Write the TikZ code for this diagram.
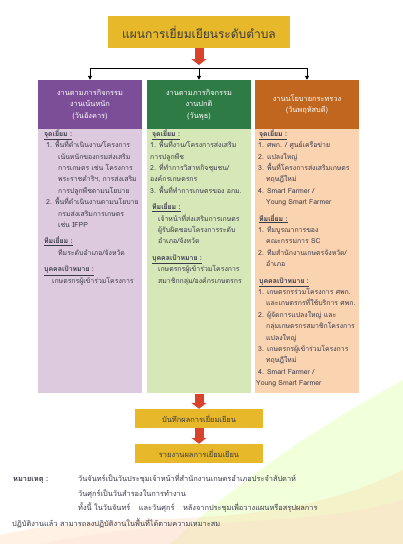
\documentclass[tikz,border=0pt]{standalone}
\usepackage{fontspec}
\setmainfont[Script=Thai]{Loma}
\usetikzlibrary{arrows.meta, positioning}

\definecolor{titlegold}{HTML}{E6B82A}
\definecolor{arrowred}{HTML}{D9432B}
\definecolor{purplehead}{HTML}{7D4E98}
\definecolor{purplebody}{HTML}{DDCADE}
\definecolor{greenhead}{HTML}{2F7B45}
\definecolor{greenbody}{HTML}{D6E7B8}
\definecolor{orangehead}{HTML}{C0661E}
\definecolor{orangebody}{HTML}{FAD3B1}
\definecolor{bodyink}{HTML}{3A3A48}
\definecolor{titleink}{HTML}{3B3B3B}

\newcommand{\secthead}[1]{\underline{\textbf{#1}}}

\begin{document}
\begin{tikzpicture}[x=1pt, y=-1pt,
  headbox/.style={minimum width=104pt, minimum height=49pt, align=center, text=white, inner sep=0pt, font=\fontsize{7.4}{11.5}\selectfont},
  bodybox/.style={minimum width=104pt, minimum height=264pt, inner sep=0pt},
  bodytext/.style={anchor=north west, align=left, inner sep=0pt, text=bodyink, font=\fontsize{6.9}{11.4}\selectfont},
  goldbox/.style={fill=titlegold, minimum width=128pt, minimum height=19pt, inner sep=0pt, text=titleink, font=\fontsize{7.5}{9}\selectfont},
  redarrow/.style={draw=arrowred, line width=9pt, -{Triangle[length=6pt, width=15pt]}},
  conn/.style={draw=black, line width=0.9pt, -{Triangle[length=4pt, width=4pt]}},
  notefont/.style={inner sep=0pt, text=bodyink, font=\fontsize{7.4}{14.5}\selectfont}
]
\useasboundingbox (0,0) rectangle (403,544);
\fill[white] (0,0) rectangle (403,544);

% soft background swirl
\fill[green!35!yellow, opacity=0.14] (170,544) .. controls (250,470) and (330,420) .. (403,380) -- (403,544) -- cycle;
\fill[orange!50, opacity=0.2] (0,535) .. controls (130,505) and (260,540) .. (403,470) -- (403,544) -- (0,544) -- cycle;
\fill[pink!70, opacity=0.22] (40,544) .. controls (170,515) and (300,530) .. (403,500) -- (403,544) -- cycle;

% title
\node[fill=titlegold, minimum width=182pt, minimum height=32pt, inner sep=0pt, text=titleink, font=\fontsize{12}{14}\selectfont] (title) at (199,32) {แผนการเยี่ยมเยียนระดับตำบล};
\coordinate (redtip) at (199,65);
\coordinate (bar) at (199,68);
\draw[redarrow] (title.south) -- (redtip);

% three columns
\node[headbox, fill=purplehead] (lefthead) at (90,104.5) {งานตามภารกิจกรรม\\งานเน้นหนัก\\(วันอังคาร)};
\node[headbox, fill=greenhead] (midhead) at (199,104.5) {งานตามภารกิจกรรม\\งานปกติ\\(วันพุธ)};
\node[headbox, fill=orangehead] (righthead) at (307,104.5) {งานนโยบายกระทรวง\\(วันพฤหัสบดี)};

\node[bodybox, fill=purplebody, below=0pt of lefthead] (leftbody) {};
\node[bodybox, fill=greenbody, below=0pt of midhead] (midbody) {};
\node[bodybox, fill=orangebody, below=0pt of righthead] (rightbody) {};

\draw[conn] (bar) -| (lefthead.north);
\draw[conn] (bar) -| (righthead.north);
\draw[conn] (bar) -- (midhead.north);

\node[bodytext] (lefttext) at (46,129) {%
\hspace*{-2pt}\secthead{จุดเยี่ยม :}\\
1. พื้นที่ดำเนินงาน/โครงการ\\
\hspace*{12pt}เน้นหนักของกรมส่งเสริม\\
\hspace*{12pt}การเกษตร เช่น โครงการ\\
\hspace*{12pt}พระราชดำริฯ, การส่งเสริม\\
\hspace*{12pt}การปลูกพืชตามนโยบาย\\
2. พื้นที่ดำเนินงานตามนโยบาย\\
\hspace*{12pt}กรมส่งเสริมการเกษตร\\
\hspace*{12pt}เช่น IFPP\\[5pt]
\hspace*{-2pt}\secthead{ทีมเยี่ยม :}\\
\hspace*{12pt}ทีมระดับอำเภอ/จังหวัด\\[5pt]
\hspace*{-2pt}\secthead{บุคคลเป้าหมาย :}\\
\hspace*{6pt}เกษตรกรผู้เข้าร่วมโครงการ};

\node[bodytext] (midtext) at (150,129) {%
\hspace*{2pt}\secthead{จุดเยี่ยม :}\\
1. พื้นที่งาน/โครงการส่งเสริม\\
การปลูกพืช\\
2. ที่ทำการวิสาหกิจชุมชน/\\
องค์กรเกษตรกร\\
3. พื้นที่ทำการเกษตรของ อกม.\\[5pt]
\hspace*{2pt}\secthead{ทีมเยี่ยม :}\\
\hspace*{8pt}เจ้าหน้าที่ส่งเสริมการเกษตร\\
\hspace*{8pt}ผู้รับผิดชอบโครงการระดับ\\
\hspace*{8pt}อำเภอ/จังหวัด\\[5pt]
\hspace*{2pt}\secthead{บุคคลเป้าหมาย :}\\
\hspace*{8pt}เกษตรกรผู้เข้าร่วมโครงการ\\
\hspace*{8pt}สมาชิกกลุ่ม/องค์กรเกษตรกร};

\node[bodytext] (righttext) at (258,129) {%
\hspace*{1pt}\secthead{จุดเยี่ยม :}\\
1. ศพก. / ศูนย์เครือข่าย\\
2. แปลงใหญ่\\
3. พื้นที่โครงการส่งเสริมเกษตร\\
\hspace*{8pt}ทฤษฎีใหม่\\
4. Smart Farmer /\\
\hspace*{8pt}Young Smart Farmer\\[5pt]
\hspace*{1pt}\secthead{ทีมเยี่ยม :}\\
1. ทีมบูรณาการของ\\
\hspace*{8pt}คณะกรรมการ SC\\
2. ทีมสำนักงานเกษตรจังหวัด/\\
\hspace*{8pt}อำเภอ\\[5pt]
\hspace*{1pt}\secthead{บุคคลเป้าหมาย :}\\
1. เกษตรกรร่วมโครงการ ศพก.\\
\hspace*{8pt}และเกษตรกรที่ใช้บริการ ศพก.\\
2. ผู้จัดการแปลงใหญ่ และ\\
\hspace*{8pt}กลุ่มเกษตรกรสมาชิกโครงการ\\
\hspace*{8pt}แปลงใหญ่\\
3. เกษตรกรผู้เข้าร่วมโครงการ\\
\hspace*{8pt}ทฤษฎีใหม่\\
4. Smart Farmer /\\
\hspace*{-2pt}Young Smart Farmer};

% results
\node[goldbox] (record) at (199,418.5) {บันทึกผลการเยี่ยมเยียน};
\node[goldbox] (report) at (199,453.5) {รายงานผลการเยี่ยมเยียน};
\draw[redarrow] (midbody.south) -- (record.north);
\draw[redarrow] (record.south) -- (report.north);

% note
\node[notefont, anchor=west, font=\fontsize{7.4}{14.5}\selectfont\bfseries] (notelabel) at (13,480) {หมายเหตุ :};
\node[notefont, anchor=north west, align=left] (notetext) at (78,474) {%
วันจันทร์เป็นวันประชุมเจ้าหน้าที่สำนักงานเกษตรอำเภอประจำสัปดาห์\\
วันศุกร์เป็นวันสำรองในการทำงาน\\
ทั้งนี้ ในวันจันทร์\hspace{6pt} และวันศุกร์\hspace{6pt} หลังจากประชุมเพื่อวางแผนหรือสรุปผลการ};
\node[notefont, anchor=west] (notelast) at (12,523) {ปฏิบัติงานแล้ว สามารถลงปฏิบัติงานในพื้นที่ได้ตามความเหมาะสม};
\end{tikzpicture}
\end{document}
